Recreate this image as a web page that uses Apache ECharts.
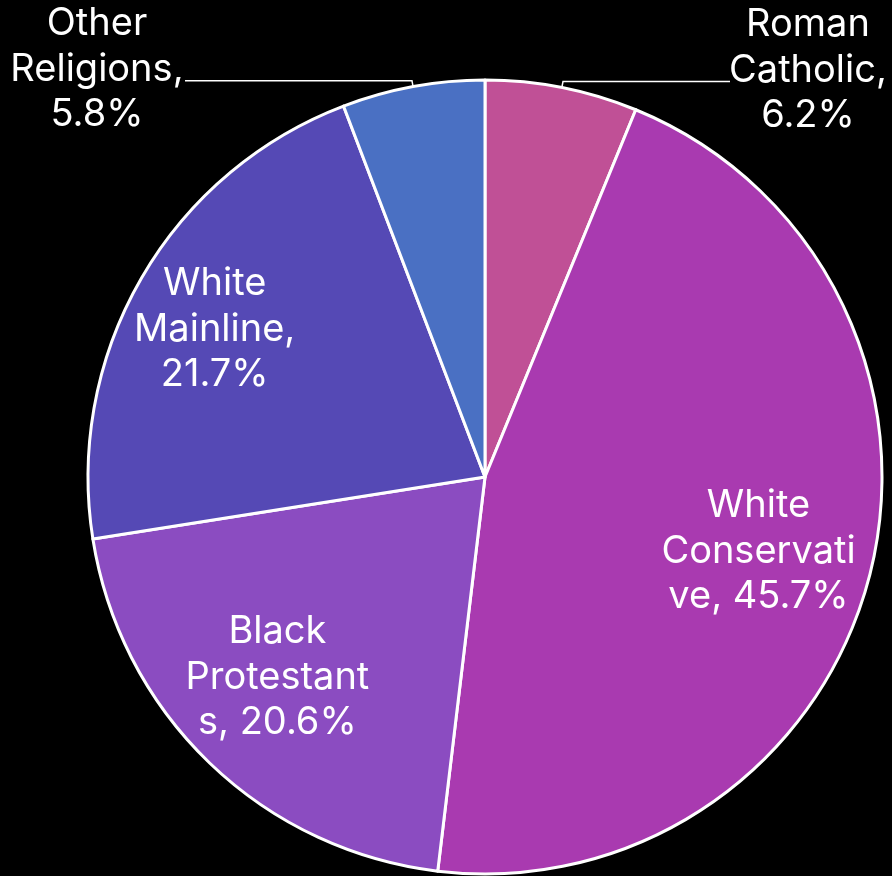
<!DOCTYPE html>
<html>
<head>
<meta charset="utf-8">
<script src="https://cdn.jsdelivr.net/npm/echarts@6/dist/echarts.min.js"></script>
<style>
  html, body { margin: 0; padding: 0; background: #000; }
  #chart { width: 892px; height: 876px; }
</style>
</head>
<body>
<div id="chart"></div>
<script>
// ---- data ----
const categories = ['Roman Catholic', 'White Conservative', 'Black Protestants', 'White Mainline', 'Other Religions'];
const values = [6.2, 45.7, 20.6, 21.7, 5.8];
const labelTexts = [
  'Roman\nCatholic,\n6.2%',
  'White\nConservati\nve, 45.7%',
  'Black\nProtestant\ns, 20.6%',
  'White\nMainline,\n21.7%',
  'Other\nReligions,\n5.8%'
];
const colors = ['#c05096', '#a93ab0', '#8b4cc1', '#5549b5', '#4a70c3'];
const outsideLabel = [true, false, false, false, true];

// ---- layout (styling only) ----
const FONT = 'Inter, "Liberation Sans", sans-serif';
const FS = 38;
const LH = 45.5;
const center = [485, 477];
const R = 397;
// outside label block width and leader line horizontal length per slice
const outsideLayout = {
  0: { width: 146, length2: 167 },
  4: { width: 166, length2: 227 }
};
// small nudges for inside labels (best-fit placement)
const insideNudge = {
  1: [-12, 0],
  2: [-3, -12],
  3: [-15, 0]
};

function richLines(txt) {
  return txt.split('\n').map(s => '{c|' + s + '}').join('\n');
}

const mainData = categories.map((name, i) => {
  const item = {
    name: name,
    value: values[i],
    itemStyle: { color: colors[i] }
  };
  if (outsideLabel[i]) {
    item.label = { show: true, width: outsideLayout[i].width };
    item.labelLine = { show: true, length2: outsideLayout[i].length2 };
  } else {
    item.label = { show: false };
    item.labelLine = { show: false };
  }
  return item;
});

const labelData = categories.map((name, i) => ({
  name: name,
  value: values[i],
  label: { show: !outsideLabel[i] }
}));

const chart = echarts.init(document.getElementById('chart'), null, { renderer: 'canvas' });
chart.setOption({
  backgroundColor: '#000',
  animation: false,
  series: [
    {
      type: 'pie',
      center: center,
      radius: [0, R],
      startAngle: 90,
      clockwise: true,
      avoidLabelOverlap: false,
      silent: true,
      itemStyle: { borderColor: '#ffffff', borderWidth: 3 },
      label: {
        position: 'outside',
        alignTo: 'none',
        distanceToLabelLine: 5,
        overflow: 'none',
        padding: [0, 0, 23, 0],
        formatter: p => richLines(labelTexts[p.dataIndex]),
        rich: {
          c: { color: '#ffffff', fontFamily: FONT, fontSize: FS, lineHeight: LH, align: 'center' }
        }
      },
      labelLine: {
        show: true,
        length: 6,
        length2: 150,
        smooth: false,
        lineStyle: { color: '#ffffff', width: 1.5 }
      },
      data: mainData
    },
    {
      type: 'pie',
      center: center,
      radius: [187, R],
      startAngle: 90,
      clockwise: true,
      avoidLabelOverlap: false,
      silent: true,
      itemStyle: { color: 'rgba(0,0,0,0)', borderWidth: 0 },
      label: {
        position: 'inside',
        color: '#ffffff',
        fontFamily: FONT,
        fontSize: FS,
        lineHeight: LH,
        formatter: p => labelTexts[p.dataIndex]
      },
      labelLayout: function (params) {
        const n = insideNudge[params.dataIndex];
        return n ? { dx: n[0], dy: n[1] } : {};
      },
      labelLine: { show: false },
      data: labelData
    }
  ]
});
</script>
</body>
</html>
